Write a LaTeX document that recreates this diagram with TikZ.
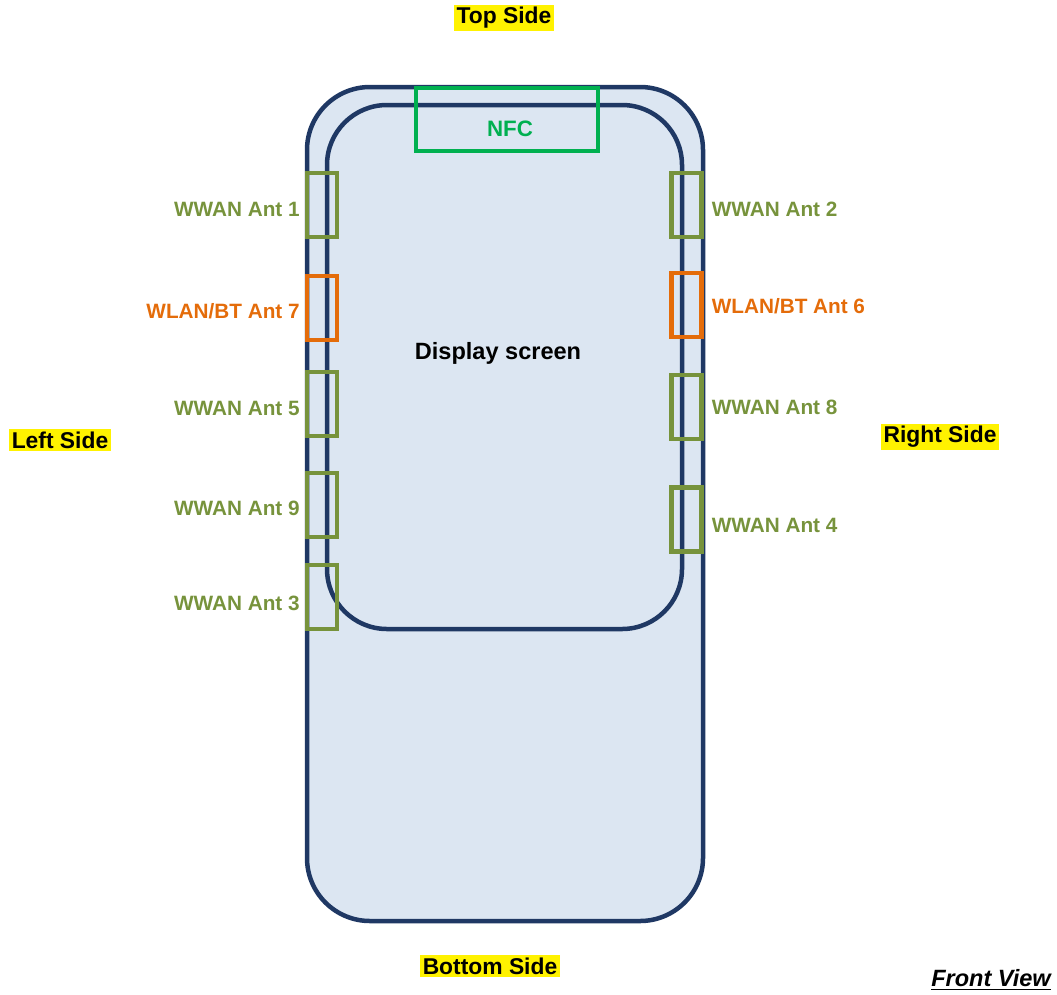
\documentclass[tikz,border=0pt]{standalone}
\usepackage{fontspec}
\setmainfont{Liberation Sans}
\usetikzlibrary{positioning}

\definecolor{caseblue}{HTML}{1F3864}
\definecolor{screenfill}{HTML}{DCE6F2}
\definecolor{wwan}{HTML}{77933C}
\definecolor{wlan}{HTML}{E46C0A}
\definecolor{nfcgreen}{HTML}{00B050}

\tikzset{
  ant/.style={draw=#1, line width=0.09cm, minimum width=0.6cm, minimum height=1.28cm, inner sep=0pt},
  antlabel/.style={text=#1, font=\fontsize{11.8}{14}\selectfont\bfseries, inner sep=1pt},
  sidelabel/.style={fill=yellow, font=\fontsize{13}{15}\selectfont\bfseries, inner sep=1.5pt},
}

\begin{document}
\begin{tikzpicture}[x=0.02cm,y=-0.02cm]
  \useasboundingbox (0,0) rectangle (1057,994);
  \draw[caseblue,fill=screenfill,line width=0.09cm,rounded corners=1.26cm]
    (307,87) rectangle (703,921); % 本体の外形
  \draw[caseblue,line width=0.09cm,rounded corners=1.2cm]
    (327,105) rectangle (682,629); % 表示画面の枠
  \draw[nfcgreen,line width=0.09cm] (416,88) rectangle (598,151); % NFCの枠
  \node[text=nfcgreen,font=\fontsize{12.7}{15}\selectfont\bfseries] (nfc) at (510,129) {NFC};
  \node[font=\fontsize{13.4}{16}\selectfont\bfseries] (screen) at (498,353) {Display screen};

  % 左側のアンテナ
  \node[ant=wwan] (a1) at (322,205) {};
  \node[ant=wlan] (a7) at (322,308) {};
  \node[ant=wwan] (a5) at (322,404) {};
  \node[ant=wwan] (a9) at (322,505) {};
  \node[ant=wwan] (a3) at (322,597) {};
  \node[antlabel=wwan,left=0.06cm of a1,yshift=-0.08cm] (l1) {WWAN Ant 1};
  \node[antlabel=wlan,left=0.06cm of a7,yshift=-0.06cm] (l7) {WLAN/BT Ant 7};
  \node[antlabel=wwan,left=0.06cm of a5,yshift=-0.08cm] (l5) {WWAN Ant 5};
  \node[antlabel=wwan,left=0.06cm of a9,yshift=-0.06cm] (l9) {WWAN Ant 9};
  \node[antlabel=wwan,left=0.06cm of a3,yshift=-0.12cm] (l3) {WWAN Ant 3};

  % 右側のアンテナ
  \node[ant=wwan] (a2) at (686.5,205) {};
  \node[ant=wlan] (a6) at (686.5,305) {};
  \node[ant=wwan] (a8) at (686.5,407) {};
  \node[ant=wwan] (a4) at (686.5,519.5) {};
  \node[antlabel=wwan,right=0.12cm of a2,yshift=-0.08cm] (l2) {WWAN Ant 2};
  \node[antlabel=wlan,right=0.12cm of a6,yshift=-0.02cm] (l6) {WLAN/BT Ant 6};
  \node[antlabel=wwan,right=0.12cm of a8,yshift=0cm] (l8) {WWAN Ant 8};
  \node[antlabel=wwan,right=0.12cm of a4,yshift=-0.11cm] (l4) {WWAN Ant 4};

  % 各辺の名前
  \node[sidelabel] (top) at (504,18) {Top Side};
  \node[sidelabel] (left) at (60,440) {Left Side};
  \node[sidelabel] (right) at (940,437) {Right Side};
  \node[sidelabel] (bottom) at (490,966) {Bottom Side};
  \node[font=\fontsize{13.4}{16}\selectfont\bfseries\itshape] (view) at (991,980) {\underline{Front View}};
\end{tikzpicture}
\end{document}
